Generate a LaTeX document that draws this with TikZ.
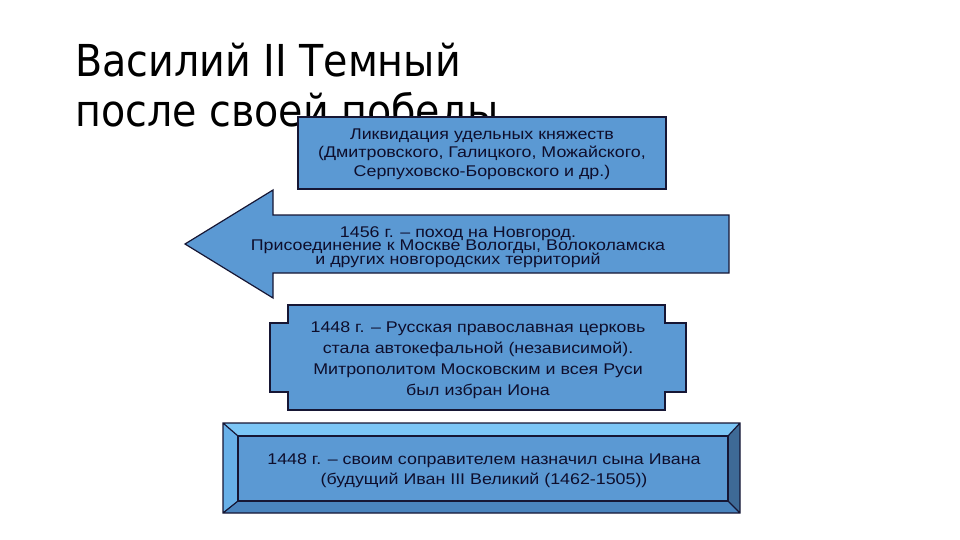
\documentclass[tikz,border=0pt]{standalone}
\usepackage{fontspec}
\setmainfont{Liberation Sans}[FakeStretch=1.15]
\newfontfamily\headfont{DejaVu Sans}[FakeStretch=0.9]
\usetikzlibrary{positioning}
\definecolor{slab}{RGB}{91,153,211}
\definecolor{slabedge}{RGB}{22,22,52}
\definecolor{slabtext}{RGB}{14,14,44}
\definecolor{bevtop}{RGB}{124,198,246}
\definecolor{bevleft}{RGB}{104,176,232}
\definecolor{bevright}{RGB}{62,106,150}
\definecolor{bevbottom}{RGB}{74,132,190}
\newcommand\tightlines{\lineskiplimit=-20pt\relax}

\begin{document}
\begin{tikzpicture}[x=1pt,y=-1pt,
  slabline/.style={draw=slabedge,line width=1.2pt,fill=slab},
  slabtxt/.style={align=center,text=slabtext,inner sep=0pt,font=\fontsize{15.5}{21}\selectfont}]
\useasboundingbox (0,0) rectangle (960,540);
\node[anchor=base west,inner sep=0pt,font=\headfont\fontsize{44}{50}\selectfont] (head1) at (75,77) {Василий II Темный};
\node[anchor=base west,inner sep=0pt,font=\headfont\fontsize{44}{50}\selectfont] (head2) at (75,127) {после своей победы};
\node[slabline,minimum width=368,minimum height=72,inner sep=0pt] (fiefs) at (482,153) {};
\node[slabtxt,font=\fontsize{15.5}{18.5}\selectfont] (fiefstxt) at (482,154) {Ликвидация удельных княжеств\\(Дмитровского, Галицкого, Можайского,\\Серпуховско-Боровского и др.)};
\draw[slabline] (185,244) -- (273,190) -- (273,215) -- (729,215) -- (729,273) -- (273,273) -- (273,298) -- cycle;
\node[slabtxt,font=\fontsize{15.5}{13.6}\selectfont\tightlines] (novgorod) at (458,247) {1456 г. – поход на Новгород.\\Присоединение к Москве Вологды, Волоколамска\\и других новгородских территорий};
\draw[slabline] (288,305) -- (665,305) -- (665,323) -- (686,323) -- (686,392) -- (665,392) -- (665,410) -- (288,410) -- (288,392) -- (270,392) -- (270,323) -- (288,323) -- cycle;
\node[slabtxt] (church) at (478,360.5) {1448 г. – Русская православная церковь\\стала автокефальной (независимой).\\Митрополитом Московским и всея Руси\\был избран Иона};
\fill[bevtop] (223,423) -- (740,423) -- (728,436) -- (238,436) -- cycle;
\fill[bevleft] (223,423) -- (238,436) -- (238,501) -- (223,513) -- cycle;
\fill[bevright] (740,423) -- (740,513) -- (728,501) -- (728,436) -- cycle;
\fill[bevbottom] (223,513) -- (740,513) -- (728,501) -- (238,501) -- cycle;
\draw[slabline] (238,436) rectangle (728,501);
\draw[draw=slabedge,line width=1.2pt] (223,423) rectangle (740,513) (223,423) -- (238,436) (740,423) -- (728,436) (740,513) -- (728,501) (223,513) -- (238,501);
\node[slabtxt,font=\fontsize{15.5}{20}\selectfont] (coruler) at (484,471) {1448 г. – своим соправителем назначил сына Ивана\\(будущий Иван III Великий (1462-1505))};
\end{tikzpicture}
\end{document}
